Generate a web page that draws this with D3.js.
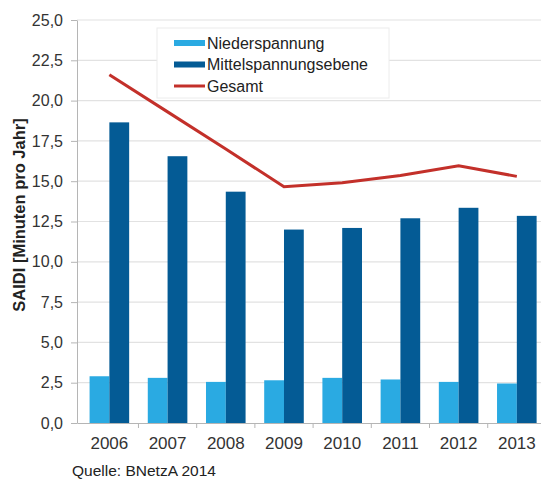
<!DOCTYPE html>
<html>
<head>
<meta charset="utf-8">
<script src="https://cdn.jsdelivr.net/npm/d3@7"></script>
<style>
    body { margin: 0; background: #fff; }
    text { font-family: Arial, "Liberation Sans", sans-serif; }
</style>
</head>
<body>
<svg id="chart" width="541" height="483"></svg>
<script>
// Chart data
const years = ["2006", "2007", "2008", "2009", "2010", "2011", "2012", "2013"];
const niederspannung = [2.9, 2.8, 2.55, 2.65, 2.8, 2.7, 2.55, 2.45];
const mittelspannung = [18.65, 16.55, 14.35, 12.0, 12.1, 12.7, 13.35, 12.85];
const gesamt = [21.6, 19.3, 17.0, 14.65, 14.9, 15.35, 15.95, 15.3];
const yTicks = [0, 2.5, 5, 7.5, 10, 12.5, 15, 17.5, 20, 22.5, 25];
const seriesNames = ["Niederspannung", "Mittelspannungsebene", "Gesamt"];

const colors = { nieder: "#2aaae2", mittel: "#045b95", gesamt: "#c3302a" };

let svg = d3.select("#chart");

// Plot area
let plotLeft = 77, plotRight = 545, plotTop = 20, plotBottom = 423;

let x = d3.scaleBand().domain(years).range([plotLeft, plotRight])
    .paddingInner(0.32).paddingOuter(0.18).align(0.6);
let y = d3.scaleLinear().domain([0, 25]).range([plotBottom, plotTop]);
let fmt = d => d3.format(".1f")(d).replace(".", ",");

// Gridlines
svg.append("g")
    .selectAll("line")
    .data(yTicks.filter(d => d > 0))
    .enter()
    .append("line")
    .attr("x1", plotLeft)
    .attr("x2", plotRight)
    .attr("y1", d => y(d))
    .attr("y2", d => y(d))
    .style("stroke", "#e2e2e2")
    .style("stroke-width", 1.2);

// Y axis
let yAxis = svg.append("g")
    .attr("transform", `translate(${plotLeft},0)`)
    .call(d3.axisLeft(y).tickValues(yTicks).tickFormat(fmt).tickSize(6).tickSizeOuter(0));
yAxis.select(".domain").style("stroke", "#b5b5b5");
yAxis.selectAll(".tick line").style("stroke", "#b5b5b5");
yAxis.selectAll("text")
    .attr("x", -14)
    .style("font-size", "16px")
    .style("fill", "#333");

// X axis with ticks at category boundaries
let xAxis = svg.append("g")
    .attr("transform", `translate(0,${plotBottom})`)
    .call(d3.axisBottom(x).tickSize(0).tickSizeOuter(0));
xAxis.select(".domain").style("stroke", "#b5b5b5");
xAxis.selectAll("text")
    .attr("y", 14)
    .style("font-size", "17px")
    .style("fill", "#333");
svg.append("g")
    .selectAll("line")
    .data(years.slice(1))
    .enter()
    .append("line")
    .attr("x1", d => x(d) - x.step() * x.paddingInner() / 2)
    .attr("x2", d => x(d) - x.step() * x.paddingInner() / 2)
    .attr("y1", plotBottom)
    .attr("y2", plotBottom + 5)
    .style("stroke", "#b5b5b5");

// Bars
let bw = x.bandwidth() / 2;
svg.append("g")
    .selectAll("rect")
    .data(years)
    .enter()
    .append("rect")
    .attr("x", d => x(d))
    .attr("y", (d, i) => y(niederspannung[i]))
    .attr("width", bw)
    .attr("height", (d, i) => plotBottom - y(niederspannung[i]))
    .attr("fill", colors.nieder);

svg.append("g")
    .selectAll("rect")
    .data(years)
    .enter()
    .append("rect")
    .attr("x", d => x(d) + bw)
    .attr("y", (d, i) => y(mittelspannung[i]))
    .attr("width", bw)
    .attr("height", (d, i) => plotBottom - y(mittelspannung[i]))
    .attr("fill", colors.mittel);

// Gesamt line
let line = d3.line()
    .x((d, i) => x(years[i]) + x.bandwidth() / 2)
    .y(d => y(d));
svg.append("path")
    .datum(gesamt)
    .attr("d", line)
    .attr("fill", "none")
    .attr("stroke", colors.gesamt)
    .attr("stroke-width", 3);

// Legend
let legend = svg.append("g");
legend.append("rect")
    .attr("x", 157)
    .attr("y", 28)
    .attr("width", 232)
    .attr("height", 70)
    .attr("fill", "#fff")
    .attr("stroke", "#ececec");
seriesNames.forEach((name, i) => {
    let ly = 43 + i * 21.5;
    if (i < 2) {
        legend.append("rect")
            .attr("x", 174)
            .attr("y", ly - 3)
            .attr("width", 31)
            .attr("height", 6)
            .attr("fill", i === 0 ? colors.nieder : colors.mittel);
    } else {
        legend.append("line")
            .attr("x1", 174)
            .attr("x2", 205)
            .attr("y1", ly)
            .attr("y2", ly)
            .attr("stroke", colors.gesamt)
            .attr("stroke-width", 3);
    }
    legend.append("text")
        .attr("x", 207)
        .attr("y", ly)
        .attr("dy", "0.35em")
        .style("font-size", "16px")
        .style("fill", "#222")
        .text(name);
});

// Axis title
svg.append("text")
    .attr("transform", "translate(25,215) rotate(-90)")
    .attr("text-anchor", "middle")
    .style("font-size", "16.5px")
    .style("font-weight", "bold")
    .style("fill", "#222")
    .text("SAIDI [Minuten pro Jahr]");

// Source note
svg.append("text")
    .attr("x", 72)
    .attr("y", 476)
    .style("font-size", "15.5px")
    .style("fill", "#222")
    .text("Quelle: BNetzA 2014");
</script>
</body>
</html>
